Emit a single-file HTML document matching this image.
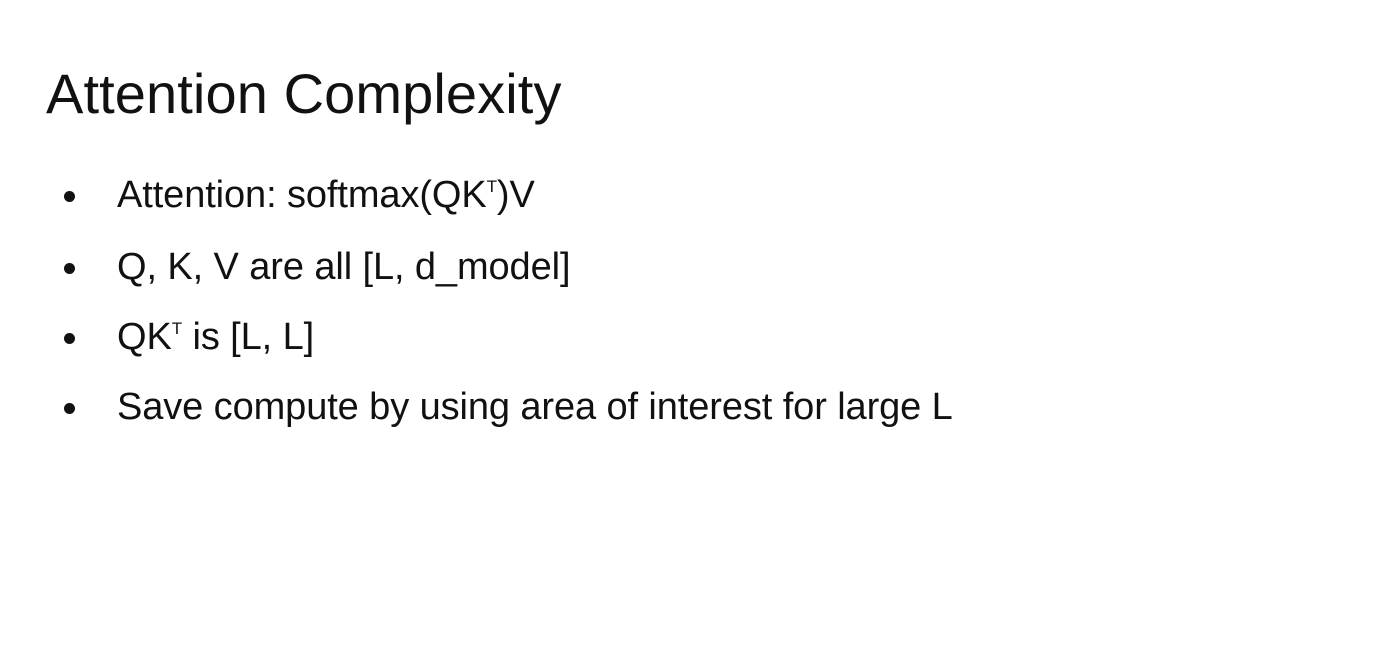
<!DOCTYPE html>
<html><head><meta charset="utf-8"><style>
html,body{margin:0;padding:0;background:#fff;}
body{width:1378px;height:672px;position:relative;overflow:hidden;font-family:"Liberation Sans",sans-serif;color:#111;}
.t{position:absolute;left:46px;top:66px;font-size:56px;line-height:1;white-space:nowrap;letter-spacing:0.1px;}
.b{position:absolute;left:117px;font-size:38px;line-height:1;white-space:nowrap;letter-spacing:-0.1px;}
.d{position:absolute;left:64px;width:11px;height:11px;border-radius:50%;background:#111;}
sup{font-size:17px;vertical-align:15px;line-height:0;}
</style></head><body>
<div class="t">Attention Complexity</div>
<div class="d" style="top:191px"></div><div class="b" style="top:176px">Attention: softmax(QK<sup>T</sup>)V</div>
<div class="d" style="top:263px"></div><div class="b" style="top:248px">Q, K, V are all [L, d_model]</div>
<div class="d" style="top:333px"></div><div class="b" style="top:318px">QK<sup>T</sup> is [L, L]</div>
<div class="d" style="top:403px"></div><div class="b" style="top:388px">Save compute by using area of interest for large L</div>
</body></html>
